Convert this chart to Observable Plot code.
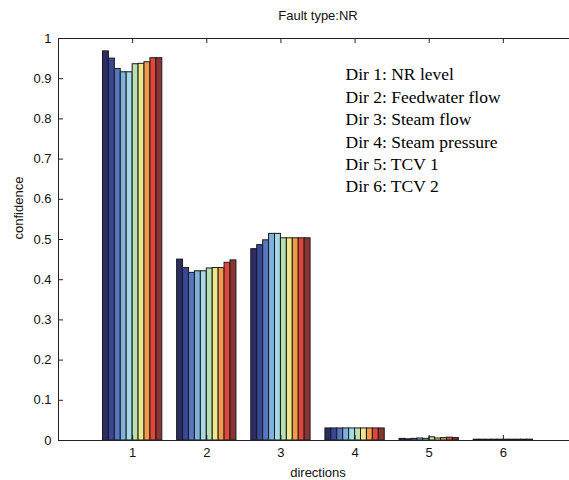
<!DOCTYPE html>
<html>
<head>
<meta charset="utf-8">
<script src="https://cdn.jsdelivr.net/npm/d3@7"></script>
<script src="https://cdn.jsdelivr.net/npm/@observablehq/plot@0.6"></script>
<style>
  html, body { margin: 0; padding: 0; background: #fff; }
  #chart { width: 569px; height: 480px; overflow: hidden; }
</style>
</head>
<body>
<div id="chart"></div>
<script>
const title = "Fault type:NR";
const xLabel = "directions";
const yLabel = "confidence";
const directions = [1, 2, 3, 4, 5, 6];
const yTicks = [0, 0.1, 0.2, 0.3, 0.4, 0.5, 0.6, 0.7, 0.8, 0.9, 1];
const seriesNames = ["s1", "s2", "s3", "s4", "s5", "s6", "s7", "s8", "s9", "s10"];
const seriesColors = ["#2a2c63", "#3a4795", "#5577c0", "#7fb1dd", "#a6d9e6", "#b8e0b0", "#efe68a", "#f29a4a", "#e0463a", "#8a3434"];
const dir1 = [0.968, 0.950, 0.924, 0.916, 0.916, 0.936, 0.937, 0.941, 0.951, 0.951];
const dir2 = [0.450, 0.429, 0.417, 0.421, 0.421, 0.428, 0.429, 0.429, 0.442, 0.448];
const dir3 = [0.476, 0.486, 0.498, 0.514, 0.514, 0.503, 0.503, 0.503, 0.503, 0.503];
const dir4 = [0.030, 0.030, 0.030, 0.030, 0.030, 0.030, 0.030, 0.030, 0.030, 0.030];
const dir5 = [0.004, 0.003, 0.004, 0.005, 0.004, 0.008, 0.005, 0.006, 0.007, 0.006];
const dir6 = [0.002, 0.002, 0.002, 0.002, 0.002, 0.002, 0.002, 0.002, 0.002, 0.002];
const legendLines = ["Dir 1: NR level", "Dir 2: Feedwater flow", "Dir 3: Steam flow", "Dir 4: Steam pressure", "Dir 5: TCV 1", "Dir 6: TCV 2"];

const values = [dir1, dir2, dir3, dir4, dir5, dir6];
const groupWidth = 0.8;
const bw = groupWidth / seriesNames.length;
const rows = [];
directions.forEach((d, i) => {
  values[i].forEach((v, k) => {
    rows.push({dir: d, series: seriesNames[k], value: v,
      x1: d - groupWidth / 2 + k * bw, x2: d - groupWidth / 2 + (k + 1) * bw});
  });
});

const W = 569, H = 480;
const mL = 58, mT = 38, mB = 40, xRight = 577;
const frameH = H - mT - mB;
const frameW = xRight - mL;
const tickLen = 5;
const font = "'Liberation Sans', Arial, sans-serif";

const chart = Plot.plot({
  width: W,
  height: H,
  marginLeft: mL,
  marginTop: mT,
  marginBottom: mB,
  marginRight: W - xRight,
  style: {fontFamily: font, fontSize: "13px", background: "#fff", color: "#111"},
  x: {domain: [0, 7], range: [mL, xRight]},
  y: {domain: [0, 1], range: [H - mB, mT]},
  color: {domain: seriesNames, range: seriesColors},
  marks: [
    Plot.rectY(rows, {x1: "x1", x2: "x2", y: "value", fill: "series", stroke: "#1a1a1a", strokeWidth: 1}),
    Plot.ruleY([0, 1], {x1: 0, x2: 7, stroke: "#222"}),
    Plot.ruleX([0], {y1: 0, y2: 1, stroke: "#222"}),
    Plot.tickY(yTicks, {y: d => d, insetRight: frameW - tickLen, stroke: "#222"}),
    Plot.tickX(directions, {x: d => d, insetTop: frameH - tickLen, stroke: "#222"}),
    Plot.tickX(directions, {x: d => d, insetBottom: frameH - tickLen, stroke: "#222"}),
    Plot.axisY({ticks: yTicks, tickSize: 0, tickPadding: 7, label: null, tickFormat: d => String(d), fontSize: 13}),
    Plot.axisX({ticks: directions, tickSize: 0, tickPadding: 7, label: null, tickFormat: d => String(d), fontSize: 13}),
    Plot.text([title], {text: d => d, frameAnchor: "top", dy: -28, fontSize: 13, fill: "#111"}),
    Plot.text([xLabel], {text: d => d, frameAnchor: "bottom", dy: 36, fontSize: 13, fill: "#111"}),
    Plot.text([yLabel], {text: d => d, frameAnchor: "left", dx: -40, rotate: -90, fontSize: 13, fill: "#111"}),
    Plot.text([legendLines.join("\n")], {text: d => d, frameAnchor: "top-left", dx: 287, dy: 26, lineAnchor: "top", textAnchor: "start", fontFamily: "'Liberation Serif', 'Times New Roman', serif", fontSize: 17.5, lineHeight: 1.28, fill: "#000"})
  ]
});
document.getElementById("chart").appendChild(chart);
</script>
</body>
</html>
